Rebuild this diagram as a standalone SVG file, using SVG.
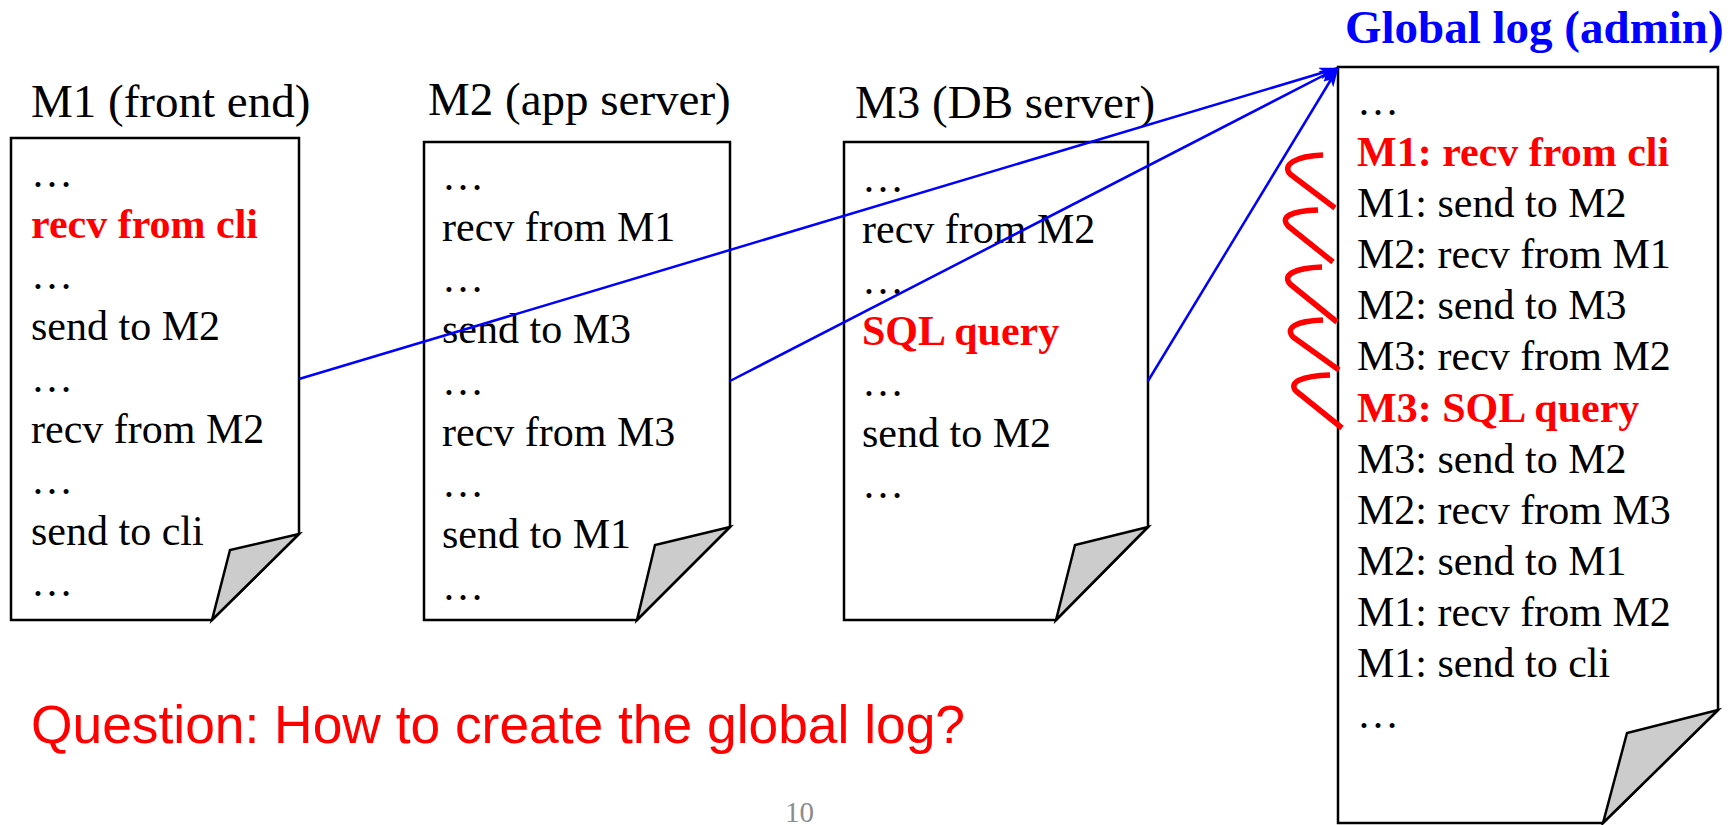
<svg xmlns="http://www.w3.org/2000/svg" width="1735" height="825" viewBox="0 0 1735 825">
<defs>
<style>
.doc{fill:#ffffff;stroke:#000000;stroke-width:2.5;stroke-linejoin:miter}
.fold{fill:#cccccc;stroke:#000000;stroke-width:2.5;stroke-linejoin:miter}
.t{font-family:"Liberation Serif","Times New Roman",serif;font-size:42px;fill:#000000}
.b{font-family:"Liberation Serif","Times New Roman",serif;font-size:42px;font-weight:bold;fill:#ff0000}
.title{font-family:"Liberation Serif","Times New Roman",serif;font-size:47px;fill:#000000}
.gtitle{font-family:"Liberation Serif","Times New Roman",serif;font-size:47px;font-weight:bold;fill:#0000ff}
.conn{stroke:#0000ff;stroke-width:2.5;fill:none;marker-end:url(#arr)}
.hook{stroke:#ff0000;stroke-width:5.5;fill:none;stroke-linecap:butt;stroke-linejoin:round}
.q{font-family:"Liberation Sans",Arial,sans-serif;font-size:53px;fill:#ff0000}
.pg{font-family:"Liberation Serif","Times New Roman",serif;font-size:29px;fill:#8c8c8c}
</style>
<marker id="arr" viewBox="0 0 20 12" refX="19" refY="6" markerWidth="20" markerHeight="12" markerUnits="userSpaceOnUse" orient="auto">
<path d="M0,0 L20,6 L0,12 L5,6 Z" fill="#0000ff"/>
</marker>
</defs>

<g id="m1">
<text class="title" x="31" y="117">M1 (front end)</text>
<path class="doc" d="M11,138 L299,138 L299,534 L212,620 L11,620 Z"/>
<path class="fold" d="M299,534 L230,550 L212,620 Z"/>
<text class="t" x="31" y="187">…</text>
<text class="b" x="31" y="238">recv from cli</text>
<text class="t" x="31" y="289">…</text>
<text class="t" x="31" y="340">send to M2</text>
<text class="t" x="31" y="392">…</text>
<text class="t" x="31" y="443">recv from M2</text>
<text class="t" x="31" y="494">…</text>
<text class="t" x="31" y="545">send to cli</text>
<text class="t" x="31" y="596">…</text>
</g>

<g id="m2">
<text class="title" x="428" y="115">M2 (app server)</text>
<path class="doc" d="M424,142 L730,142 L730,527 L637,620 L424,620 Z"/>
<path class="fold" d="M730,527 L655,545 L637,620 Z"/>
<text class="t" x="442" y="190">…</text>
<text class="t" x="442" y="241">recv from M1</text>
<text class="t" x="442" y="292">…</text>
<text class="t" x="442" y="343">send to M3</text>
<text class="t" x="442" y="395">…</text>
<text class="t" x="442" y="446">recv from M3</text>
<text class="t" x="442" y="497">…</text>
<text class="t" x="442" y="548">send to M1</text>
<text class="t" x="442" y="600">…</text>
</g>

<g id="m3">
<text class="title" x="855" y="118">M3 (DB server)</text>
<path class="doc" d="M844,142 L1148,142 L1148,527 L1056,620 L844,620 Z"/>
<path class="fold" d="M1148,527 L1075,545 L1056,620 Z"/>
<text class="t" x="862" y="192">…</text>
<text class="t" x="862" y="243">recv from M2</text>
<text class="t" x="862" y="294">…</text>
<text class="b" x="862" y="345">SQL query</text>
<text class="t" x="862" y="396">…</text>
<text class="t" x="862" y="447">send to M2</text>
<text class="t" x="862" y="498">…</text>
</g>

<g id="global">
<text class="gtitle" x="1345" y="43">Global log (admin)</text>
<path class="doc" d="M1338,67 L1718,67 L1718,710 L1603,823 L1338,823 Z"/>
<path class="fold" d="M1718,710 L1627,733 L1603,823 Z"/>
<text class="t" x="1357" y="115">…</text>
<text class="b" x="1357" y="166">M1: recv from cli</text>
<text class="t" x="1357" y="217">M1: send to M2</text>
<text class="t" x="1357" y="268">M2: recv from M1</text>
<text class="t" x="1357" y="319">M2: send to M3</text>
<text class="t" x="1357" y="370">M3: recv from M2</text>
<text class="b" x="1357" y="422">M3: SQL query</text>
<text class="t" x="1357" y="473">M3: send to M2</text>
<text class="t" x="1357" y="524">M2: recv from M3</text>
<text class="t" x="1357" y="575">M2: send to M1</text>
<text class="t" x="1357" y="626">M1: recv from M2</text>
<text class="t" x="1357" y="677">M1: send to cli</text>
<text class="t" x="1357" y="728">…</text>
</g>

<g id="squiggle">
<path class="hook" d="M1323,155 C1295,156 1282,165 1290,174 L1335,208"/>
<path class="hook" d="M1318,210 C1290,211 1280,217 1288,226 L1333,262"/>
<path class="hook" d="M1322,267 C1294,268 1282,275 1290,284 L1337,322"/>
<path class="hook" d="M1323,320 C1295,321 1285,328 1293,337 L1339,370"/>
<path class="hook" d="M1330,375 C1302,376 1288,382 1296,391 L1342,428"/>
</g>

<g id="connectors">
<line class="conn" x1="299" y1="379" x2="1338" y2="68"/>
<line class="conn" x1="730" y1="381" x2="1338" y2="68"/>
<line class="conn" x1="1148" y1="381" x2="1338" y2="68"/>
</g>

<text class="q" x="31" y="743" textLength="934" lengthAdjust="spacingAndGlyphs">Question: How to create the global log?</text>
<text class="pg" x="785" y="822">10</text>
</svg>
